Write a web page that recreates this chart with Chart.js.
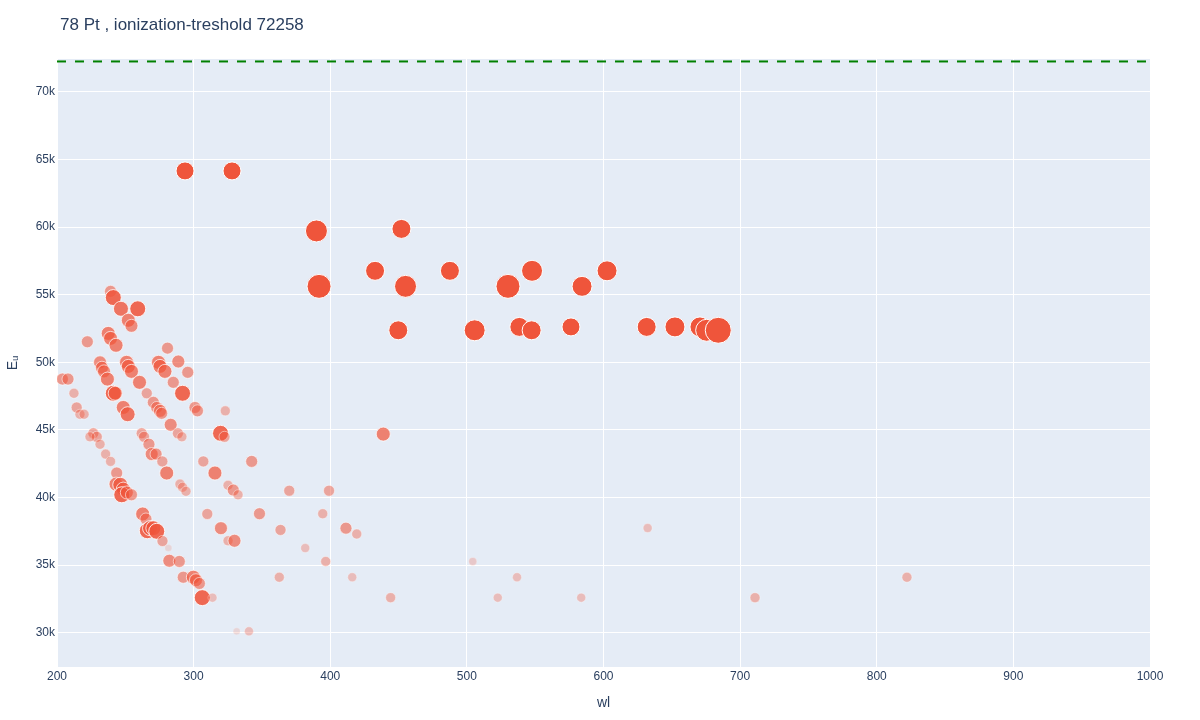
<!DOCTYPE html>
<html>
<head>
<meta charset="utf-8">
<script src="https://cdn.jsdelivr.net/npm/chart.js@4.4.1/dist/chart.umd.min.js"></script>
<style>
  html, body { margin: 0; padding: 0; background: #ffffff; }
  #wrap { width: 1200px; height: 720px; position: relative; }
</style>
</head>
<body>
<div id="wrap"><canvas id="c" width="1200" height="720"></canvas></div>
<script>
// ---- data ----
const chartTitle = "78 Pt , ionization-treshold 72258";
const ionizationThreshold = 72258;
const xTicks = [200, 300, 400, 500, 600, 700, 800, 900, 1000];
const yTicks = [30000, 35000, 40000, 45000, 50000, 55000, 60000, 65000, 70000];

// wavelength (nm)
const wl = [
  293.7, 328.1, 389.9, 452.1, 391.8, 432.8, 455.1, 487.6, 530.1, 547.7, 584.3, 602.6,
  449.8, 505.7, 538.4, 547.4, 576.2, 631.6, 652.3, 670.6, 675.5, 684.0,
  239.2, 241.2, 246.8, 259.1, 252.2, 254.5, 237.5, 239.2, 243.2, 222.2, 280.9,
  231.5, 232.9, 234.4, 236.9, 204.0, 208.05, 212.4, 241.2, 242.6, 214.4, 216.8, 219.8,
  250.9, 252.2, 254.5, 260.4, 265.7, 248.5, 251.7, 274.3, 275.4, 279.0, 288.8, 295.7,
  285.1, 291.9, 270.5, 273.0, 275.4, 276.6, 283.2, 301.0, 302.8, 323.2,
  226.6, 229.1, 224.15, 231.5, 235.6, 239.2, 243.7, 243.2, 246.3, 248.5, 247.4, 251.1, 254.5,
  262.0, 263.7, 267.3, 269.3, 272.5, 277.1, 280.3, 288.5, 291.4, 290.0, 291.9, 294.4,
  319.7, 322.6, 307.1, 315.6, 325.2, 329.0, 332.5, 342.5, 370.0, 399.1, 438.8,
  262.7, 265.1, 266.1, 268.1, 270.5, 273.0, 277.2, 281.5, 282.2, 289.5, 292.4, 299.8,
  301.7, 304.2, 306.3, 313.8, 310.0, 348.2, 394.5, 320.0, 363.6, 411.5, 419.4, 325.2,
  329.9, 381.7, 396.7, 362.7, 416.1, 331.5, 340.5, 632.3, 504.3, 536.7, 444.2, 522.6,
  583.7, 710.9, 822.1
];
// upper level energy E_u (cm^-1)
const eu = [
  64160, 64160, 59720, 59870, 55620, 56770, 55620, 56770, 55620, 56770, 55620, 56770,
  52370, 52370, 52620, 52370, 52620, 52620, 52620, 52620, 52370, 52370,
  55250, 54790, 53960, 53960, 53110, 52700, 52140, 51770, 51260, 51520, 51050,
  50000, 49600, 49330, 48760, 48760, 48760, 47710, 47710, 47710, 46660, 46160, 46160,
  50000, 49700, 49330, 48520, 47710, 46660, 46160, 50000, 49700, 49330, 50060, 49260,
  48520, 47710, 47040, 46660, 46410, 46230, 45380, 46660, 46410, 46410,
  44750, 44490, 44490, 43940, 43210, 42670, 41810, 40990, 40940, 40620, 40200, 40370, 40200,
  44750, 44490, 43940, 43210, 43210, 42670, 41810, 44750, 44490, 40990, 40760, 40460,
  44750, 44490, 42670, 41810, 40900, 40550, 40200, 42670, 40500, 40500, 44690,
  38780, 38410, 37540, 37730, 37730, 37500, 36780, 36260, 35320, 35270, 34100, 34100,
  33880, 33640, 32590, 32590, 38780, 38800, 38800, 37730, 37600, 37730, 37300, 36800,
  36800, 36260, 35270, 34100, 34100, 30100, 30100, 37740, 35270, 34100, 32590, 32590,
  32590, 32590, 34100
];
// relative line intensity (arbitrary units, 0-100)
const intensity = [
  60, 60, 80, 65, 90, 65, 80, 65, 90, 75, 70, 70,
  65, 75, 65, 65, 60, 65, 70, 70, 80, 100,
  30, 50, 45, 50, 40, 35, 40, 40, 40, 30, 30,
  35, 35, 35, 40, 30, 30, 20, 50, 40, 25, 20, 20,
  40, 40, 40, 40, 25, 40, 45, 40, 40, 40, 35, 30,
  30, 50, 30, 30, 35, 30, 35, 30, 30, 20,
  25, 25, 20, 20, 20, 20, 30, 40, 45, 40, 50, 35, 30,
  25, 25, 30, 35, 30, 25, 40, 25, 20, 20, 20, 20,
  50, 25, 25, 40, 20, 30, 20, 30, 25, 25, 40,
  40, 30, 50, 45, 45, 50, 25, 5, 35, 30, 30, 40,
  35, 30, 50, 15, 25, 30, 20, 35, 25, 30, 20, 20,
  35, 15, 20, 20, 15, 5, 15, 15, 10, 15, 20, 15,
  15, 20, 20
];

// ---- styling helpers ----
const FONT = "'Liberation Sans', Arial, sans-serif";
const TXT = '#2a3f5f';
function radiusOf(v) { return 3 + v / 10; }
function alphaOf(v) { const r = radiusOf(v); return Math.max(0.12, Math.min(1, (r - 2.5) / 6.3)); }

const points = wl.map((x, i) => ({ x: x, y: eu[i], r: radiusOf(intensity[i]) }));
const fillColors = intensity.map(v => 'rgba(239,85,59,' + alphaOf(v).toFixed(3) + ')');
const lineColors = intensity.map(v => 'rgba(255,255,255,' + alphaOf(v).toFixed(3) + ')');

const plotBg = {
  id: 'plotBg',
  beforeDraw(chart) {
    const { ctx, chartArea: a } = chart;
    ctx.save();
    ctx.fillStyle = '#E5ECF6';
    ctx.fillRect(a.left, a.top, a.right - a.left, a.bottom - a.top);
    ctx.restore();
  },
  afterDraw(chart) {
    const ctx = chart.ctx;
    ctx.save();
    ctx.font = '17px ' + FONT;
    ctx.fillStyle = TXT;
    ctx.textBaseline = 'alphabetic';
    ctx.textAlign = 'left';
    ctx.fillText(chartTitle, 60, 30);
    ctx.restore();
  }
};

new Chart(document.getElementById('c'), {
  type: 'bubble',
  data: {
    datasets: [
      {
        type: 'bubble',
        data: points,
        backgroundColor: fillColors,
        borderColor: lineColors,
        borderWidth: 1,
        hoverRadius: 0,
        order: 2
      },
      {
        type: 'line',
        data: [{ x: xTicks[0], y: ionizationThreshold }, { x: xTicks[xTicks.length - 1], y: ionizationThreshold }],
        borderColor: '#008000',
        borderWidth: 2,
        borderDash: [9, 9],
        pointRadius: 0,
        fill: false,
        order: 1
      }
    ]
  },
  options: {
    responsive: false,
    animation: false,
    devicePixelRatio: 1,
    layout: { padding: { top: 59, right: 50, left: 0, bottom: 0 } },
    plugins: { legend: { display: false }, tooltip: { enabled: false } },
    scales: {
      x: {
        type: 'linear',
        min: 200, max: 1000,
        afterBuildTicks: (axis) => { axis.ticks = xTicks.map(v => ({ value: v })); },
        afterFit: (axis) => { axis.height = 53; },
        grid: { color: '#ffffff', lineWidth: 1, drawTicks: false },
        border: { display: false },
        ticks: { color: TXT, font: { family: FONT, size: 12 }, padding: 2, maxRotation: 0, autoSkip: false,
                 callback: (v) => String(v) },
        title: { display: true, text: 'wl', color: TXT, font: { family: FONT, size: 14 }, padding: { top: 0, bottom: 8 } }
      },
      y: {
        type: 'linear',
        min: 27460, max: 72440,
        afterBuildTicks: (axis) => { axis.ticks = yTicks.map(v => ({ value: v })); },
        afterFit: (axis) => { axis.width = 57; },
        grid: { color: '#ffffff', lineWidth: 1, drawTicks: false },
        border: { display: false },
        ticks: { color: TXT, font: { family: FONT, size: 12 }, padding: 2, autoSkip: false,
                 callback: (v) => (v / 1000) + 'k' },
        title: { display: true, text: 'Eᵤ', color: TXT, font: { family: FONT, size: 14 }, padding: { top: 5, bottom: 0 } }
      }
    }
  },
  plugins: [plotBg]
});
</script>
</body>
</html>
